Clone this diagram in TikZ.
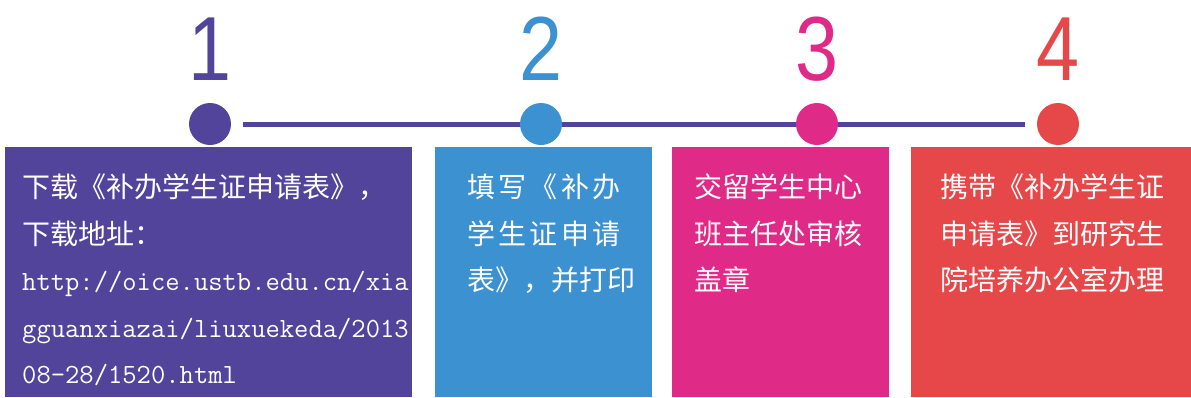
\documentclass[tikz,border=0pt]{standalone}
\usepackage{fontspec}
\newfontfamily\cjk{Noto Sans CJK SC}
\newfontfamily\cjkwide[LetterSpace=12]{Noto Sans CJK SC}
\newfontfamily\numfont[FakeStretch=0.85]{Liberation Sans}
\usepackage{tikz}
\usetikzlibrary{backgrounds}
\definecolor{steppurple}{HTML}{52439B}
\definecolor{stepblue}{HTML}{3C92D0}
\definecolor{steppink}{HTML}{E02A87}
\definecolor{stepred}{HTML}{E6484A}
\newcommand{\urlfont}{\ttfamily\fontsize{27.8bp}{46.5bp}\selectfont}

\begin{document}
\begin{tikzpicture}[x=1bp, y=-1bp,
  dot/.style={circle, inner sep=0pt, minimum size=42bp},
  num/.style={anchor=base, inner sep=0pt, font=\numfont\fontsize{91bp}{91bp}\selectfont},
  card/.style={rectangle, inner sep=0pt, anchor=north west, minimum height=250bp},
  txt/.style={anchor=north west, inner sep=0pt, align=left, text=white, font=\cjk\fontsize{28bp}{46.5bp}\selectfont}]
\useasboundingbox (0,0) rectangle (1191,397);

% cards
\node[card, fill=steppurple, minimum width=407bp] (card1) at (5,147) {};
\node[card, fill=stepblue, minimum width=217bp] (card2) at (435,147) {};
\node[card, fill=steppink, minimum width=217bp] (card3) at (672,147) {};
\node[card, fill=stepred, minimum width=280bp] (card4) at (911,147) {};

% dots and numbers
\node[dot, fill=steppurple] (dot1) at (210,124) {};
\node[dot, fill=stepblue] (dot2) at (541,124) {};
\node[dot, fill=steppink] (dot3) at (817,124) {};
\node[dot, fill=stepred] (dot4) at (1058,124) {};
\node[num, text=steppurple] (num1) at (210,80) {1};
\node[num, text=stepblue] (num2) at (541,80) {2};
\node[num, text=steppink] (num3) at (817,80) {3};
\node[num, text=stepred] (num4) at (1058,80) {4};
\begin{pgfonlayer}{background}
\draw[steppurple, line width=5bp, shorten <=12bp, shorten >=12bp] (dot1) -- (dot4);
\end{pgfonlayer}

% texts
\begin{scope}
\clip (card1.north west) rectangle (card1.south east);
\node[txt] (text1) at (22,174) {下载《补办学生证申请表》，\\下载地址：\\{\urlfont http://oice.ustb.edu.cn/xia}\\{\urlfont gguanxiazai/liuxuekeda/2013}\\{\urlfont 08-28/1520.html}};
\end{scope}
\node[txt, font=\cjkwide\fontsize{28bp}{46.5bp}\selectfont] (text2) at (467,174) {填写《补办\\学生证申请\\{\cjk 表》，并打印}};
\node[txt] (text3) at (694,174) {交留学生中心\\班主任处审核\\盖章};
\node[txt] (text4) at (940,174) {携带《补办学生证\\申请表》到研究生\\院培养办公室办理};
\end{tikzpicture}
\end{document}
